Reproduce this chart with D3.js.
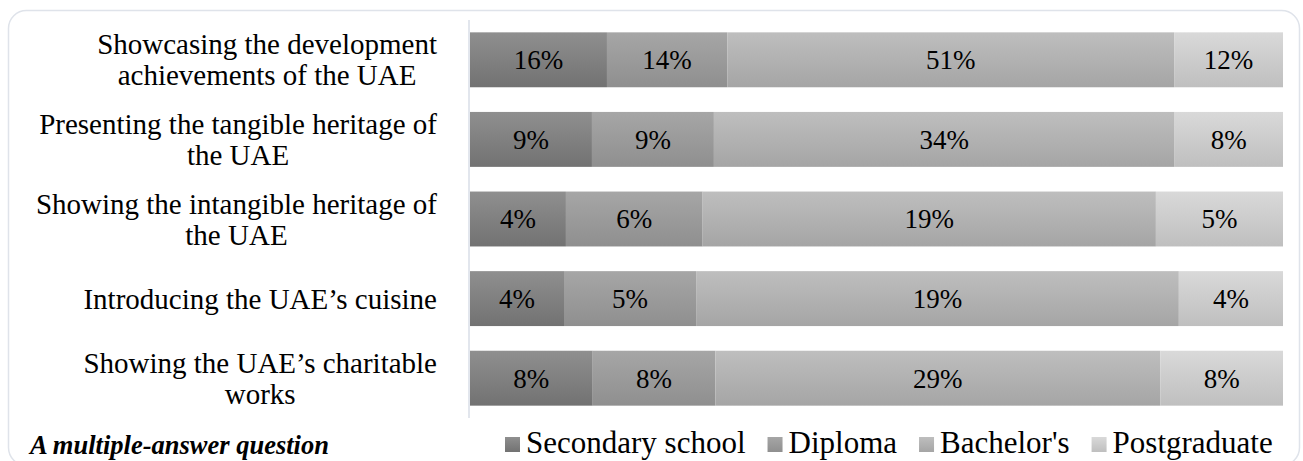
<!DOCTYPE html>
<html>
<head>
<meta charset="utf-8">
<script src="https://cdn.jsdelivr.net/npm/d3@7"></script>
<style>
  html, body { margin: 0; padding: 0; background: #ffffff; }
  svg { display: block; }
</style>
</head>
<body>
<svg id="chart" width="1303" height="461"></svg>
<script>
// ---- data ----
const categories = [
  "Showcasing the development achievements of the UAE",
  "Presenting the tangible heritage of the UAE",
  "Showing the intangible heritage of the UAE",
  "Introducing the UAE\u2019s cuisine",
  "Showing the UAE\u2019s charitable works"
];
const categoryLines = [
  ["Showcasing the development", "achievements of the UAE"],
  ["Presenting the tangible heritage of", "the UAE"],
  ["Showing the intangible heritage of", "the UAE"],
  ["Introducing the UAE\u2019s cuisine"],
  ["Showing the UAE\u2019s charitable", "works"]
];
const seriesNames = ["Secondary school", "Diploma", "Bachelor's", "Postgraduate"];
const secondary = [15.6, 9, 4.0, 3.7, 8];
const diploma = [13.7, 9, 5.7, 5.2, 8];
const bachelors = [50.9, 34, 18.9, 19.0, 29];
const postgraduate = [12.4, 8, 5.3, 4.1, 8];
const noteText = "A multiple-answer question";

// ---- build table ----
const seriesValues = [secondary, diploma, bachelors, postgraduate];
const table = categories.map((c, i) => {
  const row = { category: c };
  seriesNames.forEach((s, j) => { row[s] = seriesValues[j][i]; });
  return row;
});

const gradStops = [
  ["#8f8f8f", "#727272"],
  ["#a6a6a6", "#8f8f8f"],
  ["#bebebe", "#a5a5a5"],
  ["#d9d9d9", "#bfbfbf"]
];

const svg = d3.select("#chart");
const defs = svg.append("defs");
gradStops.forEach((st, j) => {
  const g = defs.append("linearGradient")
    .attr("id", "grad" + j).attr("x1", 0).attr("y1", 0).attr("x2", 0).attr("y2", 1);
  g.append("stop").attr("offset", "0%").attr("stop-color", st[0]);
  g.append("stop").attr("offset", "100%").attr("stop-color", st[1]);
});

// outer rounded border
svg.append("rect")
  .attr("x", 8.5).attr("y", 10.5).attr("width", 1291).attr("height", 455)
  .attr("rx", 18).attr("ry", 18)
  .attr("fill", "#ffffff").attr("stroke", "#dfe3ea").attr("stroke-width", 1.5);

const plotLeft = 470, plotRight = 1283, plotTop = 20, plotBottom = 418;

const x = d3.scaleLinear().domain([0, 1]).range([plotLeft, plotRight]);
const y = d3.scaleBand().domain(categories).range([plotTop, plotBottom])
  .paddingInner(0.31).paddingOuter(0.155);

const stack = d3.stack().keys(seriesNames).offset(d3.stackOffsetExpand);
const stacked = stack(table);

const layers = svg.append("g").selectAll("g")
  .data(stacked).join("g")
  .attr("fill", (d, j) => `url(#grad${j})`);

layers.selectAll("rect")
  .data(d => d)
  .join("rect")
  .attr("x", d => x(d[0]))
  .attr("y", d => y(d.data.category))
  .attr("width", d => x(d[1]) - x(d[0]))
  .attr("height", y.bandwidth());

// value labels
const labelG = svg.append("g")
  .attr("font-family", "'Liberation Serif', 'Times New Roman', serif")
  .attr("font-size", 27).attr("fill", "#000");
stacked.forEach((layer, j) => {
  labelG.selectAll(null)
    .data(layer)
    .join("text")
    .attr("x", d => (x(d[0]) + x(d[1])) / 2)
    .attr("y", d => y(d.data.category) + y.bandwidth() / 2)
    .attr("dy", "0.35em")
    .attr("text-anchor", "middle")
    .text(d => Math.round(d.data[layer.key]) + "%");
});

// vertical axis line
svg.append("line")
  .attr("x1", plotLeft - 1).attr("x2", plotLeft - 1)
  .attr("y1", plotTop).attr("y2", plotBottom)
  .attr("stroke", "#d9dee7").attr("stroke-width", 1.5);

// category labels (centered lines, block right-aligned)
const catFs = 29, lh = 31, catRight = 437;
const catG = svg.append("g")
  .attr("font-family", "'Liberation Serif', 'Times New Roman', serif")
  .attr("font-size", catFs).attr("fill", "#000");
categories.forEach((c, i) => {
  const lines = categoryLines[i];
  const t = catG.append("text").attr("text-anchor", "middle");
  const cy = y(c) + y.bandwidth() / 2;
  const spans = lines.map((ln, k) => t.append("tspan")
    .attr("y", cy + (k - (lines.length - 1) / 2) * lh)
    .attr("dy", "0.35em")
    .text(ln));
  const maxW = d3.max(spans, s => s.node().getComputedTextLength());
  spans.forEach(s => s.attr("x", catRight - maxW / 2));
});

// legend
const legFs = 31, sq = 15, sqGap = 6, legStart = 505, itemGap = 22;
const legG = svg.append("g")
  .attr("font-family", "'Liberation Serif', 'Times New Roman', serif")
  .attr("font-size", legFs).attr("fill", "#000");
const legBase = 453;
let lx = legStart;
seriesNames.forEach((s, j) => {
  legG.append("rect").attr("x", lx).attr("y", legBase - 16).attr("width", sq).attr("height", sq)
    .attr("fill", `url(#grad${j})`);
  const tt = legG.append("text").attr("x", lx + sq + sqGap).attr("y", legBase).text(s);
  lx += sq + sqGap + tt.node().getComputedTextLength() + itemGap;
});

// note
svg.append("text")
  .attr("x", 30).attr("y", 454)
  .attr("font-family", "'Liberation Serif', 'Times New Roman', serif")
  .attr("font-size", 26.5).attr("font-weight", "bold").attr("font-style", "italic")
  .attr("fill", "#000")
  .text(noteText);
</script>
</body>
</html>
